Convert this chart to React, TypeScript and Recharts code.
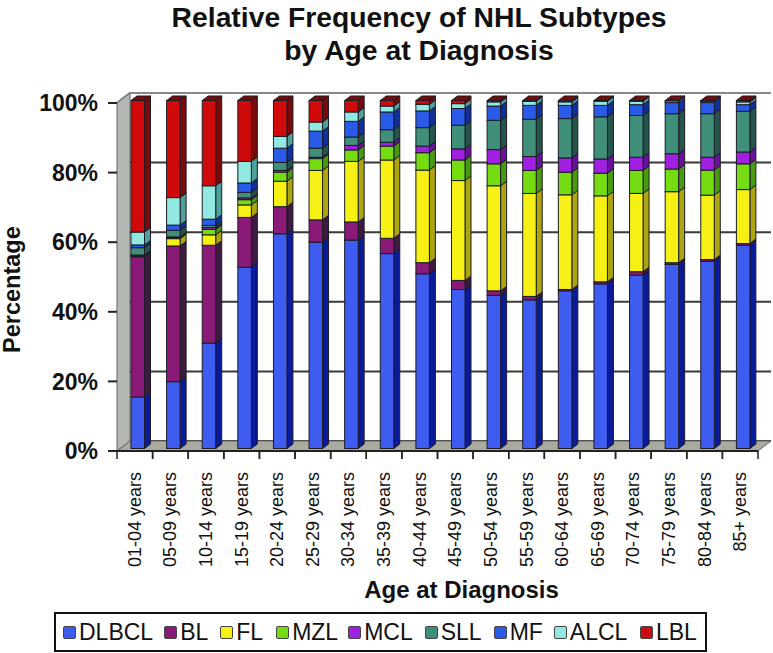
import React from "react";
import { BarChart, Bar, XAxis, YAxis, CartesianGrid, Legend, ReferenceArea } from "recharts";

const ageGroups = ["01-04 years", "05-09 years", "10-14 years", "15-19 years", "20-24 years", "25-29 years", "30-34 years", "35-39 years", "40-44 years", "45-49 years", "50-54 years", "55-59 years", "60-64 years", "65-69 years", "70-74 years", "75-79 years", "80-84 years", "85+ years"];

const dlbcl = [14.8, 19.2, 30.3, 52.1, 61.7, 59.3, 59.9, 56, 50.2, 45.7, 44, 42.7, 45.3, 47.3, 49.8, 52.9, 53.8, 58.4];
const bl = [40.3, 39, 28.1, 14.3, 7.8, 6.4, 5.2, 4.4, 3.2, 2.6, 1.3, 1, 0.4, 0.6, 1, 0.5, 0.5, 0.5];
const fl = [0.2, 2.1, 3, 3.6, 7.3, 14.2, 17.4, 22.5, 26.6, 28.7, 30.2, 29.6, 27.2, 24.7, 22.5, 20.4, 18.5, 15.5];
const mzl = [0.2, 0.3, 1.6, 1.5, 2.6, 3.4, 3.3, 4, 5, 5.9, 6.3, 6.6, 6.5, 6.5, 6.6, 6.5, 7.2, 7.4];
const mcl = [0.1, 0.2, 0.5, 0.5, 0.5, 0.4, 1.3, 1.1, 1.9, 3.2, 4.1, 4, 4.1, 4.1, 3.8, 4.4, 3.7, 3.4];
const sll = [2.1, 1.9, 0.6, 1.6, 2.3, 2.6, 2.4, 3.6, 5.3, 6.8, 8.4, 10.7, 11.3, 12.1, 12, 11.5, 12.5, 11.7];
const mf = [0.8, 1.5, 1.8, 2.7, 4.1, 4.9, 4.5, 5.1, 4.8, 4.8, 4.1, 4, 3.8, 3.3, 3.1, 3.2, 3.2, 1.9];
const alcl = [3.7, 7.9, 9.6, 6.2, 3.4, 2.6, 2.7, 1.7, 1.9, 1.4, 1.2, 1.2, 1, 1.2, 1, 0.5, 0.4, 0.8];
const lbl = [37.8, 27.9, 24.5, 17.5, 10.3, 6.2, 3.3, 1.6, 1.1, 0.9, 0.4, 0.2, 0.4, 0.2, 0.2, 0.1, 0.2, 0.4];

const seriesNames = ["DLBCL", "BL", "FL", "MZL", "MCL", "SLL", "MF", "ALCL", "LBL"];
const seriesValues = [dlbcl, bl, fl, mzl, mcl, sll, mf, alcl, lbl];
const frontColors = ["#3f5cf0", "#8a1a78", "#f6f015", "#74dc10", "#a01fe0", "#3f8f7a", "#2a5be8", "#90e8e0", "#d00a0a"];
const sideColors = ["#0a1a9c", "#3e1a40", "#aca510", "#4a9a10", "#6a10a0", "#24544c", "#102f9c", "#4f9f9a", "#7a0a0a"];
const yTicks = [0, 20, 40, 60, 80, 100];

const data = ageGroups.map((age, i) => {
  const row: Record<string, number | string> = { age };
  seriesNames.forEach((name, s) => {
    row[name] = seriesValues[s][i];
  });
  return row;
});

const FONT = "'Liberation Sans', Arial, sans-serif";
const AXIS_Y = 451;
const TOP_Y = 103;
const BAND = 35.6;
const WALL_DX = 13;
const WALL_DY = 10;

// fake excel 3d column: front face, side face, top face
function column3d(front: string, side: string) {
  return function Column(props: any) {
    const { x, y, width, height } = props;
    const fx = x + 3;
    const fy = y - 2.5;
    const dx = 6;
    const dy = 4.5;
    return (
      <g stroke="#1c1c24" strokeWidth={1}>
        <path d={`M${fx},${fy} l${dx},${-dy} h${width} l${-dx},${dy} z`} fill={side} />
        <path d={`M${fx + width},${fy} l${dx},${-dy} v${height} l${-dx},${dy} z`} fill={side} />
        <rect x={fx} y={fy} width={width} height={height} fill={front} />
      </g>
    );
  };
}

function Walls(props: any) {
  const { x, y, width, height } = props;
  return (
    <g>
      <path
        d={`M${x},${y} l${WALL_DX},${-WALL_DY} V${y + height - WALL_DY} L${x},${y + height} z`}
        fill="#b4b8b2"
        stroke="#666"
      />
      <path
        d={`M${x},${y + height} l${WALL_DX},${-WALL_DY} H${x + width + WALL_DX} L${x + width},${y + height} z`}
        fill="#a9ab9f"
        stroke="#666"
      />
    </g>
  );
}

function GridLine(props: any) {
  const { x1, y1, x2, y2 } = props;
  const color = y1 < TOP_Y + 2 ? "#888" : "#3a3a3a";
  return (
    <g stroke={color} strokeWidth={2} fill="none">
      <line x1={x1} y1={y1} x2={x1 + WALL_DX} y2={y1 - WALL_DY} />
      <line x1={x1 + WALL_DX} y1={y1 - WALL_DY} x2={x2 + WALL_DX} y2={y2 - WALL_DY} />
    </g>
  );
}

function AgeTick(props: any) {
  const { x, payload } = props;
  const textY = AXIS_Y + 21;
  return (
    <g>
      <line x1={x - BAND / 2} y1={AXIS_Y} x2={x - BAND / 2} y2={AXIS_Y + 8} stroke="#222" strokeWidth={1.5} />
      <line x1={x + BAND / 2} y1={AXIS_Y} x2={x + BAND / 2} y2={AXIS_Y + 8} stroke="#222" strokeWidth={1.5} />
      <text
        x={x}
        y={textY}
        transform={`rotate(-90 ${x} ${textY})`}
        textAnchor="end"
        dy={6}
        fontSize={18}
        fontFamily={FONT}
        fill="#111"
      >
        {payload.value}
      </text>
    </g>
  );
}

function LegendBox(props: any) {
  const gaps = [0, 11, 12, 13, 10, 12, 12, 11, 12.5];
  return (
    <div
      style={{
        boxSizing: "border-box",
        width: 653,
        height: 40,
        border: "2px solid #111",
        display: "flex",
        alignItems: "center",
        paddingLeft: 7,
        fontFamily: FONT,
        fontSize: 23,
        color: "#111",
        background: "#fff",
      }}
    >
      {props.payload.map((item: any, i: number) => (
        <span key={item.value} style={{ display: "flex", alignItems: "center", marginLeft: gaps[i] }}>
          <span
            style={{
              boxSizing: "border-box",
              width: 13,
              height: 13,
              marginRight: 3,
              borderRadius: 2,
              border: "1.5px solid #444",
              background: item.color,
            }}
          />
          {item.value}
        </span>
      ))}
    </div>
  );
}

export default function App() {
  return (
    <div style={{ position: "absolute", left: 0, top: 0, width: 773, height: 653, background: "#fff" }}>
      <div
        style={{
          position: "absolute",
          left: 119,
          top: 1,
          width: 600,
          textAlign: "center",
          fontFamily: FONT,
          fontWeight: "bold",
          fontSize: 28.3,
          lineHeight: "33px",
          color: "#111",
          zIndex: 2,
        }}
      >
        Relative Frequency of NHL Subtypes
        <br />
        by Age at Diagnosis
      </div>
      <BarChart
        width={773}
        height={653}
        data={data}
        barSize={13.5}
        margin={{ top: TOP_Y, right: 15, bottom: 102, left: 37 }}
      >
        <ReferenceArea y1={0} y2={100} shape={Walls} fill="none" stroke="none" />
        <CartesianGrid vertical={false} horizontal={GridLine as any} />
        <XAxis
          dataKey="age"
          interval={0}
          height={100}
          tickLine={false}
          axisLine={{ stroke: "#222", strokeWidth: 2 }}
          tick={AgeTick}
          label={{
            value: "Age at Diagnosis",
            position: "insideBottom",
            offset: -47,
            dx: 24,
            fontSize: 24,
            fontWeight: "bold",
            fontFamily: FONT,
            fill: "#111",
          }}
        />
        <YAxis
          width={80}
          domain={[0, 100]}
          ticks={yTicks}
          tickFormatter={(v: number) => `${v}%`}
          axisLine={false}
          tickLine={{ stroke: "#222", strokeWidth: 2 }}
          tickSize={9}
          tickMargin={10}
          tick={{ fontSize: 23, fontWeight: "bold", fontFamily: FONT, fill: "#111" }}
          label={{
            value: "Percentage",
            angle: -90,
            position: "insideLeft",
            offset: -25,
            dy: 76,
            fontSize: 23.5,
            fontWeight: "bold",
            fontFamily: FONT,
            fill: "#111",
          }}
        />
        <Legend
          layout="vertical"
          align="center"
          verticalAlign="middle"
          itemSorter={null}
          content={LegendBox}
          wrapperStyle={{ left: 54, top: 612, width: 653, height: 40 }}
        />
        {seriesNames.map((name, s) => (
          <Bar
            key={name}
            dataKey={name}
            name={name}
            stackId="a"
            fill={frontColors[s]}
            shape={column3d(frontColors[s], sideColors[s])}
            isAnimationActive={false}
          />
        ))}
      </BarChart>
    </div>
  );
}
